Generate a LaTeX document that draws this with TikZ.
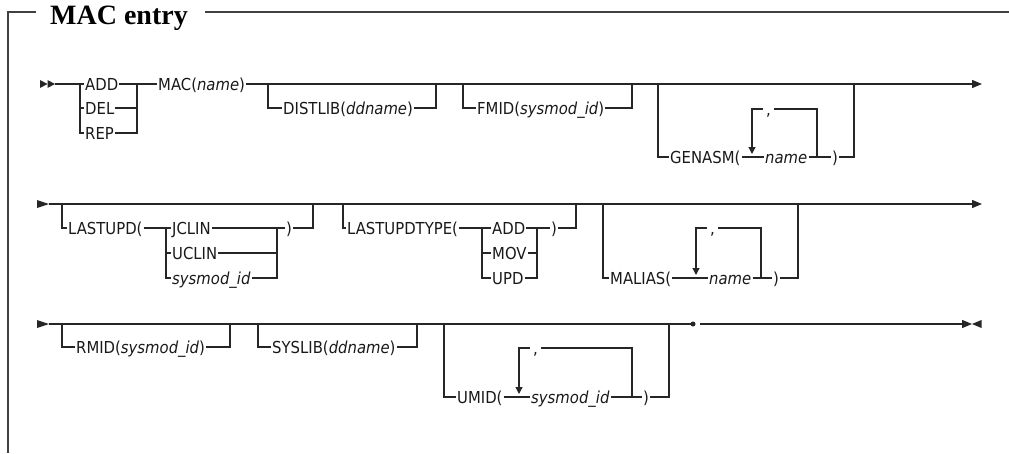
\documentclass[tikz,border=0pt]{standalone}
\usepackage{fontspec}
\setmainfont{Liberation Serif}
\newfontfamily\syn[FakeStretch=0.9]{DejaVu Sans}
\usetikzlibrary{arrows.meta}
\begin{document}
\begin{tikzpicture}[x=1pt,y=-1pt,
  ln/.style={draw=black!85,line width=1.25pt},
  frameline/.style={draw=black!75,line width=1.2pt},
  tx/.style={font={\syn\fontsize{16.5}{18}\selectfont}, inner xsep=1pt, inner ysep=0pt,
             text height=12pt, text depth=0pt, anchor=west, text=black!90},
  commabox/.style={tx, inner xsep=3pt},
  endtip/.style={-{Triangle[length=10pt,width=8pt]}},
  looptip/.style={-{Triangle[length=7pt,width=7pt]}},
  headfill/.style={fill=black!85}]
\useasboundingbox (0,0) rectangle (1009,453);

% ---- frame and title
\coordinate (F0) at (36,12);
\coordinate (F1) at (8,12);
\coordinate (F2) at (8,453);
\coordinate (F3) at (205,12);
\coordinate (F4) at (1009,12);
\draw[frameline] (F0) -- (F1) -- (F2);
\draw[frameline] (F3) -- (F4);
\node[anchor=base west, inner sep=0pt, font=\bfseries\fontsize{28}{30}\selectfont] (title) at (50,24.5) {MAC entry};

% ================= Row 1
\fill[headfill] (40,80) -- (47.5,84) -- (40,88) -- cycle;
\fill[headfill] (47.5,80) -- (55,84) -- (47.5,88) -- cycle;
\coordinate (s1) at (55,84);
\coordinate (aL) at (80,84);
\coordinate (aR) at (137,84);
\coordinate (e1) at (982,84);
\node[tx] (ADD) at (84,84) {ADD};
\node[tx] (DEL) at (84,108) {DEL};
\node[tx] (REP) at (84,133) {REP};
\node[tx] (MAC) at (157,84) {MAC({\itshape name})};
\draw[ln] (s1) -- (ADD.west);
\draw[ln] (aL) -- (aL |- REP.west) -- (REP.west);
\draw[ln] (aL |- DEL.west) -- (DEL.west);
\draw[ln] (ADD.east) -- (MAC.west);
\draw[ln] (aR) -- (aR |- REP.east) -- (REP.east);
\draw[ln] (DEL.east) -- (aR |- DEL.east);
\draw[ln,endtip] (MAC.east) -- (e1);

% DISTLIB
\coordinate (dL) at (268,84);
\coordinate (dR) at (436,84);
\node[tx] (DIST) at (282,108) {DISTLIB({\itshape ddname})};
\draw[ln] (dL) -- (dL |- DIST.west) -- (DIST.west);
\draw[ln] (DIST.east) -- (dR |- DIST.east) -- (dR);

% FMID
\coordinate (fL) at (463,84);
\coordinate (fR) at (632,84);
\node[tx] (FMID) at (476,108) {FMID({\itshape sysmod\_id})};
\draw[ln] (fL) -- (fL |- FMID.west) -- (FMID.west);
\draw[ln] (FMID.east) -- (fR |- FMID.east) -- (fR);

% GENASM
\coordinate (gL) at (658,84);
\coordinate (gR) at (854,84);
\node[tx] (GEN) at (669,157) {GENASM(};
\node[tx] (GN) at (764,157) {\itshape name};
\node[tx] (GC) at (831,157) {)};
\coordinate (gl1) at (752,109);
\coordinate (gl2) at (817,109);
\coordinate (gtip) at (752,154);
\node[commabox] (GCM) at (763,109) {,};
\draw[ln] (gL) -- (gL |- GEN.west) -- (GEN.west);
\draw[ln] (GEN.east) -- (GN.west);
\draw[ln] (GN.east) -- (GC.west);
\draw[ln] (GC.east) -- (gR |- GC.east) -- (gR);
\draw[ln,looptip] (GCM.west) -- (gl1) -- (gtip);
\draw[ln] (GCM.east) -- (gl2) -- (gl2 |- GN.east);

% ================= Row 2
\fill[headfill] (37,200) -- (49,204) -- (37,208) -- cycle;
\coordinate (s2) at (49,204);
\coordinate (e2) at (982,204);
\draw[ln,endtip] (s2) -- (e2);

% LASTUPD
\coordinate (lL) at (62,204);
\coordinate (lR) at (313,204);
\coordinate (bL) at (166,228);
\coordinate (bR) at (277,228);
\node[tx] (LU) at (67,228) {LASTUPD(};
\node[tx] (JC) at (171,228) {JCLIN};
\node[tx] (UC) at (171,253) {UCLIN};
\node[tx] (SI) at (171,278) {\itshape sysmod\_id};
\node[tx] (LC) at (285,228) {)};
\draw[ln] (lL) -- (lL |- LU.west) -- (LU.west);
\draw[ln] (LU.east) -- (JC.west);
\draw[ln] (bL) -- (bL |- SI.west) -- (SI.west);
\draw[ln] (bL |- UC.west) -- (UC.west);
\draw[ln] (JC.east) -- (LC.west);
\draw[ln] (bR) -- (bR |- SI.east) -- (SI.east);
\draw[ln] (UC.east) -- (bR |- UC.east);
\draw[ln] (LC.east) -- (lR |- LC.east) -- (lR);

% LASTUPDTYPE
\coordinate (tL) at (343,204);
\coordinate (tR) at (576,204);
\coordinate (cL) at (482,228);
\coordinate (cR) at (537,228);
\node[tx] (LT) at (346,228) {LASTUPDTYPE(};
\node[tx] (TA) at (491,228) {ADD};
\node[tx] (TM) at (491,253) {MOV};
\node[tx] (TU) at (491,278) {UPD};
\node[tx] (TC) at (550,228) {)};
\draw[ln] (tL) -- (tL |- LT.west) -- (LT.west);
\draw[ln] (LT.east) -- (TA.west);
\draw[ln] (cL) -- (cL |- TU.west) -- (TU.west);
\draw[ln] (cL |- TM.west) -- (TM.west);
\draw[ln] (TA.east) -- (TC.west);
\draw[ln] (cR) -- (cR |- TU.east) -- (TU.east);
\draw[ln] (TM.east) -- (cR |- TM.east);
\draw[ln] (TC.east) -- (tR |- TC.east) -- (tR);

% MALIAS
\coordinate (mL) at (603,204);
\coordinate (mR) at (798,204);
\node[tx] (MA) at (609,278) {MALIAS(};
\node[tx] (MN) at (708,278) {\itshape name};
\node[tx] (MC) at (772,278) {)};
\coordinate (ml1) at (696,228);
\coordinate (ml2) at (761,228);
\coordinate (mtip) at (696,275);
\node[commabox] (MCM) at (707,228) {,};
\draw[ln] (mL) -- (mL |- MA.west) -- (MA.west);
\draw[ln] (MA.east) -- (MN.west);
\draw[ln] (MN.east) -- (MC.west);
\draw[ln] (MC.east) -- (mR |- MC.east) -- (mR);
\draw[ln,looptip] (MCM.west) -- (ml1) -- (mtip);
\draw[ln] (MCM.east) -- (ml2) -- (ml2 |- MN.east);

% ================= Row 3
\fill[headfill] (37,320) -- (49,324) -- (37,328) -- cycle;
\coordinate (s3) at (49,324);
\node[circle, fill=black!85, inner sep=0pt, minimum size=5pt] (dot) at (693,324) {};
\draw[ln] (s3) -- (dot.center);
\coordinate (k1) at (700,324);
\coordinate (k2) at (719,324);
\coordinate (e3) at (972,324);
\draw[black!85, line width=2.2pt] (k1) -- (k2);
\draw[ln,endtip] (k2) -- (e3);
\fill[headfill] (981.5,320) -- (972,324) -- (981.5,328) -- cycle;

% RMID
\coordinate (rL) at (62,324);
\coordinate (rR) at (230,324);
\node[tx] (RM) at (75,347) {RMID({\itshape sysmod\_id})};
\draw[ln] (rL) -- (rL |- RM.west) -- (RM.west);
\draw[ln] (RM.east) -- (rR |- RM.east) -- (rR);

% SYSLIB
\coordinate (yL) at (258,324);
\coordinate (yR) at (417,324);
\node[tx] (SY) at (271,347) {SYSLIB({\itshape ddname})};
\draw[ln] (yL) -- (yL |- SY.west) -- (SY.west);
\draw[ln] (SY.east) -- (yR |- SY.east) -- (yR);

% UMID
\coordinate (uL) at (444,324);
\coordinate (uR) at (669,324);
\node[tx] (UM) at (456,397) {UMID(};
\node[tx] (UN) at (530,397) {\itshape sysmod\_id};
\node[tx] (UC3) at (642,397) {)};
\coordinate (ul1) at (519,348);
\coordinate (ul2) at (632,348);
\coordinate (utip) at (519,394);
\node[commabox] (UCM) at (530,348) {,};
\draw[ln] (uL) -- (uL |- UM.west) -- (UM.west);
\draw[ln] (UM.east) -- (UN.west);
\draw[ln] (UN.east) -- (UC3.west);
\draw[ln] (UC3.east) -- (uR |- UC3.east) -- (uR);
\draw[ln,looptip] (UCM.west) -- (ul1) -- (utip);
\draw[ln] (UCM.east) -- (ul2) -- (ul2 |- UN.east);
\end{tikzpicture}
\end{document}
